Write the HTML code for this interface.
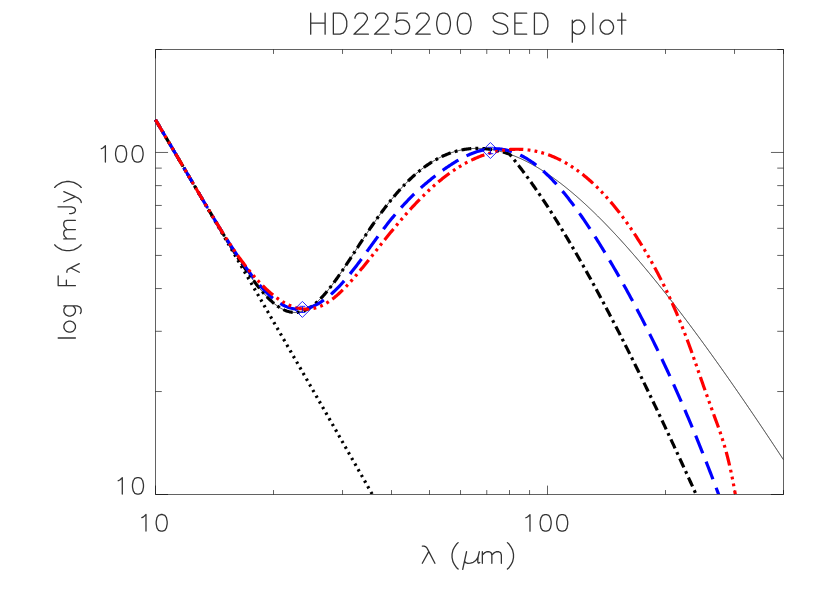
<!DOCTYPE html>
<html><head><meta charset="utf-8"><title>HD225200 SED plot</title>
<style>html,body{margin:0;padding:0;background:#fff;font-family:"Liberation Sans",sans-serif;}svg{display:block}</style>
</head><body>
<svg width="830" height="593" viewBox="0 0 830 593">
<defs><clipPath id="c"><rect x="151.50" y="49.50" width="632.00" height="444.50"/></clipPath></defs>
<rect width="830" height="593" fill="#fff"/>
<path d="M155.50 49.50 H783.50 V494.50 H155.50 Z" fill="none" stroke="#000" stroke-width="0.62"/>
<path d="M155.50 494.50 v-8.90 M155.50 49.50 v8.90 M273.50 494.50 v-4.45 M273.50 49.50 v4.45 M342.53 494.50 v-4.45 M342.53 49.50 v4.45 M391.50 494.50 v-4.45 M391.50 49.50 v4.45 M429.49 494.50 v-4.45 M429.49 49.50 v4.45 M460.53 494.50 v-4.45 M460.53 49.50 v4.45 M486.77 494.50 v-4.45 M486.77 49.50 v4.45 M509.51 494.50 v-4.45 M509.51 49.50 v4.45 M529.56 494.50 v-4.45 M529.56 49.50 v4.45 M547.50 494.50 v-8.90 M547.50 49.50 v8.90 M665.50 494.50 v-4.45 M665.50 49.50 v4.45 M734.52 494.50 v-4.45 M734.52 49.50 v4.45 M783.50 494.50 v-4.45 M783.50 49.50 v4.45 M155.50 494.50 h12.56 M783.50 494.50 h-12.56 M155.50 391.54 h6.28 M783.50 391.54 h-6.28 M155.50 331.31 h6.28 M783.50 331.31 h-6.28 M155.50 288.57 h6.28 M783.50 288.57 h-6.28 M155.50 255.43 h6.28 M783.50 255.43 h-6.28 M155.50 228.34 h6.28 M783.50 228.34 h-6.28 M155.50 205.45 h6.28 M783.50 205.45 h-6.28 M155.50 185.61 h6.28 M783.50 185.61 h-6.28 M155.50 168.11 h6.28 M783.50 168.11 h-6.28 M155.50 152.46 h12.56 M783.50 152.46 h-12.56 M155.50 49.50 h6.28 M783.50 49.50 h-6.28" fill="none" stroke="#000" stroke-width="0.62"/>
<g clip-path="url(#c)" fill="none" stroke-linejoin="round">
<path d="M155.50 119.77 L156.50 121.46 L157.50 123.15 L158.50 124.84 L159.50 126.54 L160.50 128.23 L161.50 129.92 L162.50 131.61 L163.50 133.31 L164.50 135.00 L165.50 136.69 L166.50 138.39 L167.50 140.08 L168.50 141.78 L169.50 143.47 L170.50 145.17 L171.50 146.87 L172.50 148.56 L173.50 150.26 L174.50 151.96 L175.50 153.65 L176.50 155.35 L177.50 157.05 L178.50 158.75 L179.50 160.45 L180.50 162.15 L181.50 163.85 L182.50 165.55 L183.50 167.25 L184.50 168.95 L185.50 170.65 L186.50 172.35 L187.50 174.05 L188.50 175.75 L189.50 177.45 L190.50 179.16 L191.50 180.86 L192.50 182.56 L193.50 184.27 L194.50 185.97 L195.50 187.68 L196.50 189.38 L197.50 191.09 L198.50 192.79 L199.50 194.50 L200.50 196.20 L201.50 197.91 L202.50 199.62 L203.50 201.32 L204.50 203.03 L205.50 204.74 L206.50 206.45 L207.50 208.15 L208.50 209.86 L209.50 211.57 L210.50 213.28 L211.50 214.99 L212.50 216.70 L213.50 218.41 L214.50 220.12 L215.50 221.83 L216.50 223.55 L217.50 225.26 L218.50 226.97 L219.50 228.68 L220.50 230.39 L221.50 232.11 L222.50 233.82 L223.50 235.54 L224.50 237.25 L225.50 238.96 L226.50 240.68 L227.50 242.39 L228.50 244.11 L229.50 245.83 L230.50 247.54 L231.50 249.26 L232.50 250.98 L233.50 252.69 L234.50 254.41 L235.50 256.13 L236.50 257.85 L237.50 259.57 L238.50 261.29 L239.50 263.00 L240.50 264.72 L241.50 266.44 L242.50 268.16 L243.50 269.89 L244.50 271.61 L245.50 273.33 L246.50 275.05 L247.50 276.77 L248.50 278.49 L249.50 280.22 L250.50 281.94 L251.50 283.66 L252.50 285.39 L253.50 287.11 L254.50 288.84 L255.50 290.56 L256.50 292.29 L257.50 294.01 L258.50 295.74 L259.50 297.46 L260.50 299.19 L261.50 300.92 L262.50 302.64 L263.50 304.37 L264.50 306.10 L265.50 307.83 L266.50 309.56 L267.50 311.29 L268.50 313.02 L269.50 314.74 L270.50 316.47 L271.50 318.21 L272.50 319.94 L273.50 321.67 L274.50 323.40 L275.50 325.13 L276.50 326.86 L277.50 328.59 L278.50 330.33 L279.50 332.06 L280.50 333.79 L281.50 335.53 L282.50 337.26 L283.50 339.00 L284.50 340.73 L285.50 342.47 L286.50 344.20 L287.50 345.94 L288.50 347.67 L289.50 349.41 L290.50 351.15 L291.50 352.88 L292.50 354.62 L293.50 356.36 L294.50 358.10 L295.50 359.84 L296.50 361.57 L297.50 363.31 L298.50 365.05 L299.50 366.79 L300.50 368.53 L301.50 370.27 L302.50 372.01 L303.50 373.76 L304.50 375.50 L305.50 377.24 L306.50 378.98 L307.50 380.72 L308.50 382.47 L309.50 384.21 L310.50 385.95 L311.50 387.70 L312.50 389.44 L313.50 391.19 L314.50 392.93 L315.50 394.68 L316.50 396.42 L317.50 398.17 L318.50 399.92 L319.50 401.66 L320.50 403.41 L321.50 405.16 L322.50 406.91 L323.50 408.65 L324.50 410.40 L325.50 412.15 L326.50 413.90 L327.50 415.65 L328.50 417.40 L329.50 419.15 L330.50 420.90 L331.50 422.65 L332.50 424.40 L333.50 426.15 L334.50 427.90 L335.50 429.66 L336.50 431.41 L337.50 433.16 L338.50 434.92 L339.50 436.67 L340.50 438.42 L341.50 440.18 L342.50 441.93 L343.50 443.69 L344.50 445.44 L345.50 447.20 L346.50 448.95 L347.50 450.71 L348.50 452.47 L349.50 454.22 L350.50 455.98 L351.50 457.74 L352.50 459.50 L353.50 461.26 L354.50 463.01 L355.50 464.77 L356.50 466.53 L357.50 468.29 L358.50 470.05 L359.50 471.81 L360.50 473.57 L361.50 475.33 L362.50 477.10 L363.50 478.86 L364.50 480.62 L365.50 482.38 L366.50 484.15 L367.50 485.91 L368.50 487.67 L369.50 489.44 L370.50 491.20 L371.50 492.96 L372.50 494.73 L373.50 496.49 L374.50 498.26 L375.50 500.03 L376.50 501.79" stroke="#000" stroke-width="3.20" stroke-dasharray="2.36 4.16" stroke-dashoffset="0.25"/>
<path d="M155.50 119.77 L156.50 121.46 L157.50 123.15 L158.50 124.84 L159.50 126.53 L160.50 128.22 L161.50 129.91 L162.50 131.61 L163.50 133.30 L164.50 134.99 L165.50 136.69 L166.50 138.38 L167.50 140.07 L168.50 141.77 L169.50 143.46 L170.50 145.16 L171.50 146.85 L172.50 148.55 L173.50 150.24 L174.50 151.94 L175.50 153.63 L176.50 155.33 L177.50 157.02 L178.50 158.72 L179.50 160.42 L180.50 162.11 L181.50 163.81 L182.50 165.51 L183.50 167.20 L184.50 168.90 L185.50 170.60 L186.50 172.29 L187.50 173.99 L188.50 175.68 L189.50 177.38 L190.50 179.08 L191.50 180.77 L192.50 182.47 L193.50 184.16 L194.50 185.86 L195.50 187.55 L196.50 189.25 L197.50 190.94 L198.50 192.63 L199.50 194.33 L200.50 196.02 L201.50 197.71 L202.50 199.40 L203.50 201.09 L204.50 202.78 L205.50 204.46 L206.50 206.15 L207.50 207.84 L208.50 209.52 L209.50 211.20 L210.50 212.88 L211.50 214.56 L212.50 216.24 L213.50 217.91 L214.50 219.58 L215.50 221.25 L216.50 222.92 L217.50 224.59 L218.50 226.25 L219.50 227.91 L220.50 229.57 L221.50 231.22 L222.50 232.87 L223.50 234.51 L224.50 236.15 L225.50 237.79 L226.50 239.42 L227.50 241.05 L228.50 242.67 L229.50 244.29 L230.50 245.90 L231.50 247.51 L232.50 249.11 L233.50 250.70 L234.50 252.28 L235.50 253.86 L236.50 255.43 L237.50 256.99 L238.50 258.54 L239.50 260.09 L240.50 261.62 L241.50 263.14 L242.50 264.66 L243.50 266.16 L244.50 267.65 L245.50 269.13 L246.50 270.59 L247.50 272.05 L248.50 273.49 L249.50 274.91 L250.50 276.32 L251.50 277.71 L252.50 279.09 L253.50 280.45 L254.50 281.79 L255.50 283.12 L256.50 284.42 L257.50 285.71 L258.50 286.97 L259.50 288.22 L260.50 289.44 L261.50 290.64 L262.50 291.81 L263.50 292.96 L264.50 294.09 L265.50 295.19 L266.50 296.26 L267.50 297.31 L268.50 298.32 L269.50 299.31 L270.50 300.27 L271.50 301.20 L272.50 302.10 L273.50 302.96 L274.50 303.79 L275.50 304.59 L276.50 305.35 L277.50 306.08 L278.50 306.77 L279.50 307.42 L280.50 308.04 L281.50 308.62 L282.50 309.16 L283.50 309.66 L284.50 310.12 L285.50 310.54 L286.50 310.92 L287.50 311.26 L288.50 311.56 L289.50 311.81 L290.50 312.02 L291.50 312.19 L292.50 312.32 L293.50 312.40 L294.50 312.44 L295.50 312.43 L296.50 312.38 L297.50 312.29 L298.50 312.16 L299.50 311.97 L300.50 311.75 L301.50 311.48 L302.50 311.17 L303.50 310.82 L304.50 310.42 L305.50 309.98 L306.50 309.50 L307.50 308.98 L308.50 308.41 L309.50 307.81 L310.50 307.16 L311.50 306.48 L312.50 305.76 L313.50 305.00 L314.50 304.20 L315.50 303.36 L316.50 302.49 L317.50 301.59 L318.50 300.65 L319.50 299.68 L320.50 298.67 L321.50 297.63 L322.50 296.57 L323.50 295.47 L324.50 294.34 L325.50 293.19 L326.50 292.01 L327.50 290.81 L328.50 289.58 L329.50 288.32 L330.50 287.05 L331.50 285.75 L332.50 284.43 L333.50 283.09 L334.50 281.73 L335.50 280.36 L336.50 278.97 L337.50 277.56 L338.50 276.14 L339.50 274.70 L340.50 273.26 L341.50 271.80 L342.50 270.33 L343.50 268.85 L344.50 267.36 L345.50 265.86 L346.50 264.35 L347.50 262.84 L348.50 261.32 L349.50 259.80 L350.50 258.27 L351.50 256.74 L352.50 255.21 L353.50 253.68 L354.50 252.14 L355.50 250.61 L356.50 249.07 L357.50 247.54 L358.50 246.00 L359.50 244.47 L360.50 242.95 L361.50 241.42 L362.50 239.90 L363.50 238.39 L364.50 236.87 L365.50 235.37 L366.50 233.87 L367.50 232.38 L368.50 230.89 L369.50 229.41 L370.50 227.94 L371.50 226.48 L372.50 225.02 L373.50 223.58 L374.50 222.14 L375.50 220.72 L376.50 219.30 L377.50 217.90 L378.50 216.50 L379.50 215.12 L380.50 213.75 L381.50 212.39 L382.50 211.04 L383.50 209.70 L384.50 208.38 L385.50 207.06 L386.50 205.76 L387.50 204.48 L388.50 203.20 L389.50 201.94 L390.50 200.70 L391.50 199.46 L392.50 198.25 L393.50 197.04 L394.50 195.85 L395.50 194.67 L396.50 193.51 L397.50 192.36 L398.50 191.23 L399.50 190.11 L400.50 189.00 L401.50 187.91 L402.50 186.84 L403.50 185.78 L404.50 184.73 L405.50 183.70 L406.50 182.69 L407.50 181.69 L408.50 180.70 L409.50 179.73 L410.50 178.78 L411.50 177.84 L412.50 176.91 L413.50 176.01 L414.50 175.11 L415.50 174.23 L416.50 173.37 L417.50 172.52 L418.50 171.69 L419.50 170.88 L420.50 170.07 L421.50 169.29 L422.50 168.52 L423.50 167.76 L424.50 167.02 L425.50 166.30 L426.50 165.59 L427.50 164.89 L428.50 164.21 L429.50 163.55 L430.50 162.90 L431.50 162.26 L432.50 161.65 L433.50 161.04 L434.50 160.45 L435.50 159.88 L436.50 159.32 L437.50 158.77 L438.50 158.24 L439.50 157.73 L440.50 157.22 L441.50 156.74 L442.50 156.27 L443.50 155.81 L444.50 155.36 L445.50 154.94 L446.50 154.52 L447.50 154.12 L448.50 153.73 L449.50 153.36 L450.50 153.00 L451.50 152.66 L452.50 152.33 L453.50 152.01 L454.50 151.71 L455.50 151.42 L456.50 151.14 L457.50 150.88 L458.50 150.63 L459.50 150.40 L460.50 150.18 L461.50 149.97 L462.50 149.77 L463.50 149.59 L464.50 149.42 L465.50 149.26 L466.50 149.12 L467.50 148.99 L468.50 148.87 L469.50 148.77 L470.50 148.68 L471.50 148.60 L472.50 148.53 L473.50 148.47 L474.50 148.43 L475.50 148.40 L476.50 148.38 L477.50 148.38 L478.50 148.38 L479.50 148.40 L480.50 148.43 L481.50 148.47 L482.50 148.53 L483.50 148.59 L484.50 148.67 L485.50 148.76 L486.50 148.86 L487.50 148.97 L488.50 149.09 L489.50 149.22 L490.50 149.37 L491.50 149.52 L492.50 149.69 L493.50 149.87 L494.50 150.06 L495.50 150.26 L496.50 150.47 L497.50 150.69 L498.50 150.92 L499.50 151.16 L500.50 151.41 L501.50 151.68 L502.50 151.95 L503.50 152.23 L504.50 152.53 L505.50 152.83 L506.50 153.14 L507.50 153.47 L508.50 153.80 L509.50 154.15 L510.50 154.50 L511.50 154.86 L512.50 155.23 L513.50 155.62 L514.50 156.01 L515.50 156.41 L516.50 156.82 L517.50 157.24 L518.50 157.67 L519.50 158.11 L520.50 158.56 L521.50 159.01 L522.50 159.48 L523.50 159.95 L524.50 160.43 L525.50 160.93 L526.50 161.43 L527.50 161.94 L528.50 162.46 L529.50 162.98 L530.50 163.52 L531.50 164.06 L532.50 164.61 L533.50 165.17 L534.50 165.74 L535.50 166.32 L536.50 166.90 L537.50 167.50 L538.50 168.10 L539.50 168.71 L540.50 169.32 L541.50 169.95 L542.50 170.58 L543.50 171.22 L544.50 171.87 L545.50 172.53 L546.50 173.19 L547.50 173.86 L548.50 174.54 L549.50 175.22 L550.50 175.92 L551.50 176.62 L552.50 177.33 L553.50 178.04 L554.50 178.76 L555.50 179.49 L556.50 180.23 L557.50 180.97 L558.50 181.72 L559.50 182.48 L560.50 183.24 L561.50 184.01 L562.50 184.79 L563.50 185.57 L564.50 186.36 L565.50 187.16 L566.50 187.97 L567.50 188.78 L568.50 189.59 L569.50 190.42 L570.50 191.25 L571.50 192.08 L572.50 192.92 L573.50 193.77 L574.50 194.63 L575.50 195.49 L576.50 196.35 L577.50 197.23 L578.50 198.11 L579.50 198.99 L580.50 199.88 L581.50 200.78 L582.50 201.68 L583.50 202.59 L584.50 203.50 L585.50 204.42 L586.50 205.35 L587.50 206.28 L588.50 207.22 L589.50 208.16 L590.50 209.11 L591.50 210.06 L592.50 211.02 L593.50 211.98 L594.50 212.95 L595.50 213.93 L596.50 214.91 L597.50 215.89 L598.50 216.88 L599.50 217.88 L600.50 218.88 L601.50 219.88 L602.50 220.89 L603.50 221.91 L604.50 222.93 L605.50 223.96 L606.50 224.99 L607.50 226.02 L608.50 227.06 L609.50 228.11 L610.50 229.16 L611.50 230.21 L612.50 231.27 L613.50 232.33 L614.50 233.40 L615.50 234.47 L616.50 235.55 L617.50 236.63 L618.50 237.72 L619.50 238.81 L620.50 239.91 L621.50 241.01 L622.50 242.11 L623.50 243.22 L624.50 244.33 L625.50 245.45 L626.50 246.57 L627.50 247.70 L628.50 248.83 L629.50 249.96 L630.50 251.10 L631.50 252.24 L632.50 253.39 L633.50 254.54 L634.50 255.69 L635.50 256.85 L636.50 258.01 L637.50 259.17 L638.50 260.34 L639.50 261.52 L640.50 262.70 L641.50 263.88 L642.50 265.06 L643.50 266.25 L644.50 267.44 L645.50 268.64 L646.50 269.84 L647.50 271.04 L648.50 272.25 L649.50 273.46 L650.50 274.67 L651.50 275.89 L652.50 277.11 L653.50 278.34 L654.50 279.57 L655.50 280.80 L656.50 282.03 L657.50 283.27 L658.50 284.51 L659.50 285.76 L660.50 287.01 L661.50 288.26 L662.50 289.51 L663.50 290.77 L664.50 292.03 L665.50 293.30 L666.50 294.56 L667.50 295.83 L668.50 297.11 L669.50 298.39 L670.50 299.67 L671.50 300.95 L672.50 302.24 L673.50 303.53 L674.50 304.82 L675.50 306.11 L676.50 307.41 L677.50 308.71 L678.50 310.02 L679.50 311.32 L680.50 312.63 L681.50 313.95 L682.50 315.26 L683.50 316.58 L684.50 317.90 L685.50 319.23 L686.50 320.55 L687.50 321.88 L688.50 323.21 L689.50 324.55 L690.50 325.89 L691.50 327.23 L692.50 328.57 L693.50 329.92 L694.50 331.26 L695.50 332.61 L696.50 333.97 L697.50 335.32 L698.50 336.68 L699.50 338.04 L700.50 339.41 L701.50 340.77 L702.50 342.14 L703.50 343.51 L704.50 344.88 L705.50 346.26 L706.50 347.64 L707.50 349.02 L708.50 350.40 L709.50 351.79 L710.50 353.17 L711.50 354.56 L712.50 355.95 L713.50 357.35 L714.50 358.75 L715.50 360.14 L716.50 361.55 L717.50 362.95 L718.50 364.35 L719.50 365.76 L720.50 367.17 L721.50 368.58 L722.50 370.00 L723.50 371.41 L724.50 372.83 L725.50 374.25 L726.50 375.68 L727.50 377.10 L728.50 378.53 L729.50 379.96 L730.50 381.39 L731.50 382.82 L732.50 384.25 L733.50 385.69 L734.50 387.13 L735.50 388.57 L736.50 390.01 L737.50 391.46 L738.50 392.90 L739.50 394.35 L740.50 395.80 L741.50 397.26 L742.50 398.71 L743.50 400.17 L744.50 401.62 L745.50 403.08 L746.50 404.54 L747.50 406.01 L748.50 407.47 L749.50 408.94 L750.50 410.41 L751.50 411.88 L752.50 413.35 L753.50 414.82 L754.50 416.30 L755.50 417.78 L756.50 419.26 L757.50 420.74 L758.50 422.22 L759.50 423.70 L760.50 425.19 L761.50 426.68 L762.50 428.17 L763.50 429.66 L764.50 431.15 L765.50 432.64 L766.50 434.14 L767.50 435.64 L768.50 437.13 L769.50 438.63 L770.50 440.14 L771.50 441.64 L772.50 443.14 L773.50 444.65 L774.50 446.16 L775.50 447.67 L776.50 449.18 L777.50 450.69 L778.50 452.20 L779.50 453.72 L780.50 455.23 L781.50 456.75 L782.50 458.27 L783.50 459.79" stroke="#000" stroke-width="0.75"/>
<path d="M155.50 119.77 L156.50 121.46 L157.50 123.15 L158.50 124.84 L159.50 126.53 L160.50 128.22 L161.50 129.91 L162.50 131.61 L163.50 133.30 L164.50 134.99 L165.50 136.69 L166.50 138.38 L167.50 140.07 L168.50 141.77 L169.50 143.46 L170.50 145.16 L171.50 146.85 L172.50 148.55 L173.50 150.24 L174.50 151.94 L175.50 153.63 L176.50 155.33 L177.50 157.02 L178.50 158.72 L179.50 160.42 L180.50 162.11 L181.50 163.81 L182.50 165.51 L183.50 167.20 L184.50 168.90 L185.50 170.60 L186.50 172.29 L187.50 173.99 L188.50 175.68 L189.50 177.38 L190.50 179.08 L191.50 180.77 L192.50 182.47 L193.50 184.16 L194.50 185.86 L195.50 187.55 L196.50 189.25 L197.50 190.94 L198.50 192.63 L199.50 194.33 L200.50 196.02 L201.50 197.71 L202.50 199.40 L203.50 201.09 L204.50 202.78 L205.50 204.46 L206.50 206.15 L207.50 207.84 L208.50 209.52 L209.50 211.20 L210.50 212.88 L211.50 214.56 L212.50 216.24 L213.50 217.91 L214.50 219.58 L215.50 221.25 L216.50 222.92 L217.50 224.59 L218.50 226.25 L219.50 227.91 L220.50 229.57 L221.50 231.22 L222.50 232.87 L223.50 234.51 L224.50 236.15 L225.50 237.79 L226.50 239.42 L227.50 241.05 L228.50 242.67 L229.50 244.29 L230.50 245.90 L231.50 247.51 L232.50 249.11 L233.50 250.70 L234.50 252.28 L235.50 253.86 L236.50 255.43 L237.50 256.99 L238.50 258.54 L239.50 260.09 L240.50 261.62 L241.50 263.14 L242.50 264.66 L243.50 266.16 L244.50 267.65 L245.50 269.13 L246.50 270.59 L247.50 272.05 L248.50 273.49 L249.50 274.91 L250.50 276.32 L251.50 277.71 L252.50 279.09 L253.50 280.45 L254.50 281.79 L255.50 283.12 L256.50 284.42 L257.50 285.71 L258.50 286.97 L259.50 288.22 L260.50 289.44 L261.50 290.64 L262.50 291.81 L263.50 292.96 L264.50 294.09 L265.50 295.19 L266.50 296.26 L267.50 297.31 L268.50 298.32 L269.50 299.31 L270.50 300.27 L271.50 301.20 L272.50 302.10 L273.50 302.96 L274.50 303.79 L275.50 304.59 L276.50 305.35 L277.50 306.08 L278.50 306.77 L279.50 307.42 L280.50 308.04 L281.50 308.62 L282.50 309.16 L283.50 309.66 L284.50 310.12 L285.50 310.54 L286.50 310.92 L287.50 311.26 L288.50 311.56 L289.50 311.81 L290.50 312.02 L291.50 312.19 L292.50 312.32 L293.50 312.40 L294.50 312.44 L295.50 312.43 L296.50 312.38 L297.50 312.29 L298.50 312.16 L299.50 311.97 L300.50 311.75 L301.50 311.48 L302.50 311.17 L303.50 310.82 L304.50 310.42 L305.50 309.98 L306.50 309.50 L307.50 308.98 L308.50 308.41 L309.50 307.81 L310.50 307.16 L311.50 306.48 L312.50 305.76 L313.50 305.00 L314.50 304.20 L315.50 303.36 L316.50 302.49 L317.50 301.59 L318.50 300.65 L319.50 299.68 L320.50 298.67 L321.50 297.63 L322.50 296.57 L323.50 295.47 L324.50 294.34 L325.50 293.19 L326.50 292.01 L327.50 290.81 L328.50 289.58 L329.50 288.32 L330.50 287.05 L331.50 285.75 L332.50 284.43 L333.50 283.09 L334.50 281.73 L335.50 280.36 L336.50 278.97 L337.50 277.56 L338.50 276.14 L339.50 274.70 L340.50 273.26 L341.50 271.80 L342.50 270.33 L343.50 268.85 L344.50 267.36 L345.50 265.86 L346.50 264.35 L347.50 262.84 L348.50 261.32 L349.50 259.80 L350.50 258.27 L351.50 256.74 L352.50 255.21 L353.50 253.68 L354.50 252.14 L355.50 250.61 L356.50 249.07 L357.50 247.54 L358.50 246.00 L359.50 244.47 L360.50 242.95 L361.50 241.42 L362.50 239.90 L363.50 238.39 L364.50 236.87 L365.50 235.37 L366.50 233.87 L367.50 232.38 L368.50 230.89 L369.50 229.41 L370.50 227.94 L371.50 226.48 L372.50 225.02 L373.50 223.58 L374.50 222.14 L375.50 220.72 L376.50 219.30 L377.50 217.90 L378.50 216.50 L379.50 215.12 L380.50 213.75 L381.50 212.39 L382.50 211.04 L383.50 209.70 L384.50 208.38 L385.50 207.06 L386.50 205.76 L387.50 204.48 L388.50 203.20 L389.50 201.94 L390.50 200.70 L391.50 199.46 L392.50 198.25 L393.50 197.04 L394.50 195.85 L395.50 194.67 L396.50 193.51 L397.50 192.36 L398.50 191.23 L399.50 190.11 L400.50 189.00 L401.50 187.91 L402.50 186.84 L403.50 185.78 L404.50 184.73 L405.50 183.70 L406.50 182.69 L407.50 181.69 L408.50 180.70 L409.50 179.73 L410.50 178.78 L411.50 177.84 L412.50 176.91 L413.50 176.01 L414.50 175.11 L415.50 174.23 L416.50 173.37 L417.50 172.52 L418.50 171.69 L419.50 170.88 L420.50 170.07 L421.50 169.29 L422.50 168.52 L423.50 167.76 L424.50 167.02 L425.50 166.30 L426.50 165.59 L427.50 164.89 L428.50 164.21 L429.50 163.55 L430.50 162.90 L431.50 162.26 L432.50 161.65 L433.50 161.04 L434.50 160.45 L435.50 159.88 L436.50 159.32 L437.50 158.77 L438.50 158.24 L439.50 157.73 L440.50 157.22 L441.50 156.74 L442.50 156.27 L443.50 155.81 L444.50 155.36 L445.50 154.94 L446.50 154.52 L447.50 154.12 L448.50 153.73 L449.50 153.36 L450.50 153.00 L451.50 152.66 L452.50 152.33 L453.50 152.01 L454.50 151.71 L455.50 151.42 L456.50 151.14 L457.50 150.88 L458.50 150.63 L459.50 150.40 L460.50 150.18 L461.50 149.97 L462.50 149.77 L463.50 149.59 L464.50 149.42 L465.50 149.26 L466.50 149.12 L467.50 148.99 L468.50 148.87 L469.50 148.77 L470.50 148.68 L471.50 148.60 L472.50 148.53 L473.50 148.47 L474.50 148.43 L475.50 148.40 L476.50 148.38 L477.50 148.38 L478.50 148.38 L479.50 148.40 L480.50 148.43 L481.50 148.47 L482.50 148.53 L483.50 148.59 L484.50 148.67 L485.50 148.76 L486.50 148.86 L487.50 148.97 L488.50 149.09 L489.50 149.22 L490.50 149.37 L491.50 149.52 L492.50 149.69 L493.50 149.87 L494.50 150.06 L495.50 150.26 L496.50 150.47 L497.50 150.69 L498.50 150.92 L499.50 151.16 L500.50 151.41 L501.50 151.68 L502.50 151.95 L503.50 152.23 L504.50 152.53 L505.50 152.83 L506.50 153.14 L507.50 153.47 L508.50 153.80 L509.50 154.15 L510.50 155.35 L511.50 156.57 L512.50 157.80 L513.50 159.04 L514.50 160.28 L515.50 161.54 L516.50 162.81 L517.50 164.09 L518.50 165.37 L519.50 166.67 L520.50 167.97 L521.50 169.29 L522.50 170.61 L523.50 171.95 L524.50 173.29 L525.50 174.64 L526.50 176.00 L527.50 177.37 L528.50 178.74 L529.50 180.13 L530.50 181.52 L531.50 182.93 L532.50 184.34 L533.50 185.76 L534.50 187.19 L535.50 188.62 L536.50 190.07 L537.50 191.52 L538.50 192.98 L539.50 194.45 L540.50 195.93 L541.50 197.42 L542.50 198.91 L543.50 200.41 L544.50 201.92 L545.50 203.44 L546.50 204.96 L547.50 206.49 L548.50 208.03 L549.50 209.58 L550.50 211.14 L551.50 212.70 L552.50 214.27 L553.50 215.84 L554.50 217.43 L555.50 219.02 L556.50 220.62 L557.50 222.22 L558.50 223.84 L559.50 225.46 L560.50 227.08 L561.50 228.71 L562.50 230.35 L563.50 232.00 L564.50 233.65 L565.50 235.31 L566.50 236.98 L567.50 238.65 L568.50 240.33 L569.50 242.02 L570.50 243.71 L571.50 245.41 L572.50 247.12 L573.50 248.83 L574.50 250.55 L575.50 252.27 L576.50 254.00 L577.50 255.74 L578.50 257.48 L579.50 259.23 L580.50 260.98 L581.50 262.74 L582.50 264.51 L583.50 266.28 L584.50 268.06 L585.50 269.84 L586.50 271.63 L587.50 273.42 L588.50 275.22 L589.50 277.03 L590.50 278.84 L591.50 280.66 L592.50 282.48 L593.50 284.31 L594.50 286.14 L595.50 287.98 L596.50 289.82 L597.50 291.67 L598.50 293.53 L599.50 295.39 L600.50 297.25 L601.50 299.12 L602.50 300.99 L603.50 302.87 L604.50 304.76 L605.50 306.65 L606.50 308.54 L607.50 310.44 L608.50 312.34 L609.50 314.25 L610.50 316.17 L611.50 318.09 L612.50 320.01 L613.50 321.94 L614.50 323.87 L615.50 325.81 L616.50 327.75 L617.50 329.69 L618.50 331.64 L619.50 333.60 L620.50 335.56 L621.50 337.52 L622.50 339.49 L623.50 341.46 L624.50 343.44 L625.50 345.42 L626.50 347.40 L627.50 349.39 L628.50 351.39 L629.50 353.39 L630.50 355.39 L631.50 357.39 L632.50 359.40 L633.50 361.42 L634.50 363.43 L635.50 365.46 L636.50 367.48 L637.50 369.51 L638.50 371.55 L639.50 373.58 L640.50 375.62 L641.50 377.67 L642.50 379.72 L643.50 381.77 L644.50 383.83 L645.50 385.89 L646.50 387.95 L647.50 390.02 L648.50 392.09 L649.50 394.16 L650.50 396.24 L651.50 398.32 L652.50 400.41 L653.50 402.50 L654.50 404.59 L655.50 406.68 L656.50 408.78 L657.50 410.88 L658.50 412.99 L659.50 415.10 L660.50 417.21 L661.50 419.32 L662.50 421.44 L663.50 423.56 L664.50 425.69 L665.50 427.82 L666.50 429.95 L667.50 432.08 L668.50 434.22 L669.50 436.36 L670.50 438.50 L671.50 440.65 L672.50 442.80 L673.50 444.95 L674.50 447.11 L675.50 449.27 L676.50 451.43 L677.50 453.59 L678.50 455.76 L679.50 457.93 L680.50 460.10 L681.50 462.28 L682.50 464.46 L683.50 466.64 L684.50 468.82 L685.50 471.01 L686.50 473.20 L687.50 475.39 L688.50 477.59 L689.50 479.79 L690.50 481.99 L691.50 484.19 L692.50 486.39 L693.50 488.60 L694.50 490.81 L695.50 493.03 L696.50 495.24 L697.50 497.46 L698.50 499.68 L699.50 501.91" stroke="#000" stroke-width="3.20" stroke-dasharray="9.81 4.16 2.83 4.16" stroke-dashoffset="0.25"/>
<path d="M155.50 119.77 L156.50 121.46 L157.50 123.15 L158.50 124.84 L159.50 126.53 L160.50 128.22 L161.50 129.91 L162.50 131.61 L163.50 133.30 L164.50 134.99 L165.50 136.69 L166.50 138.38 L167.50 140.07 L168.50 141.77 L169.50 143.46 L170.50 145.16 L171.50 146.85 L172.50 148.55 L173.50 150.24 L174.50 151.94 L175.50 153.63 L176.50 155.33 L177.50 157.03 L178.50 158.72 L179.50 160.42 L180.50 162.11 L181.50 163.81 L182.50 165.51 L183.50 167.20 L184.50 168.90 L185.50 170.60 L186.50 172.29 L187.50 173.99 L188.50 175.69 L189.50 177.38 L190.50 179.08 L191.50 180.77 L192.50 182.47 L193.50 184.16 L194.50 185.86 L195.50 187.55 L196.50 189.25 L197.50 190.94 L198.50 192.63 L199.50 194.32 L200.50 196.01 L201.50 197.70 L202.50 199.39 L203.50 201.07 L204.50 202.76 L205.50 204.44 L206.50 206.12 L207.50 207.80 L208.50 209.47 L209.50 211.15 L210.50 212.82 L211.50 214.49 L212.50 216.15 L213.50 217.81 L214.50 219.47 L215.50 221.12 L216.50 222.77 L217.50 224.41 L218.50 226.05 L219.50 227.68 L220.50 229.31 L221.50 230.93 L222.50 232.54 L223.50 234.14 L224.50 235.74 L225.50 237.33 L226.50 238.91 L227.50 240.48 L228.50 242.04 L229.50 243.60 L230.50 245.14 L231.50 246.67 L232.50 248.19 L233.50 249.71 L234.50 251.21 L235.50 252.70 L236.50 254.18 L237.50 255.65 L238.50 257.11 L239.50 258.56 L240.50 260.00 L241.50 261.43 L242.50 262.85 L243.50 264.26 L244.50 265.66 L245.50 267.05 L246.50 268.42 L247.50 269.78 L248.50 271.13 L249.50 272.47 L250.50 273.79 L251.50 275.10 L252.50 276.39 L253.50 277.66 L254.50 278.92 L255.50 280.16 L256.50 281.37 L257.50 282.57 L258.50 283.75 L259.50 284.91 L260.50 286.05 L261.50 287.16 L262.50 288.26 L263.50 289.33 L264.50 290.37 L265.50 291.40 L266.50 292.40 L267.50 293.37 L268.50 294.32 L269.50 295.25 L270.50 296.14 L271.50 297.02 L272.50 297.86 L273.50 298.68 L274.50 299.47 L275.50 300.23 L276.50 300.96 L277.50 301.66 L278.50 302.34 L279.50 302.98 L280.50 303.59 L281.50 304.18 L282.50 304.73 L283.50 305.25 L284.50 305.74 L285.50 306.20 L286.50 306.63 L287.50 307.03 L288.50 307.39 L289.50 307.72 L290.50 308.02 L291.50 308.29 L292.50 308.52 L293.50 308.73 L294.50 308.90 L295.50 309.03 L296.50 309.14 L297.50 309.21 L298.50 309.25 L299.50 309.26 L300.50 309.23 L301.50 309.18 L302.50 309.09 L303.50 308.97 L304.50 308.81 L305.50 308.63 L306.50 308.42 L307.50 308.17 L308.50 307.90 L309.50 307.59 L310.50 307.25 L311.50 306.89 L312.50 306.49 L313.50 306.07 L314.50 305.61 L315.50 305.13 L316.50 304.62 L317.50 304.08 L318.50 303.52 L319.50 302.92 L320.50 302.30 L321.50 301.66 L322.50 300.99 L323.50 300.29 L324.50 299.57 L325.50 298.83 L326.50 298.06 L327.50 297.26 L328.50 296.45 L329.50 295.61 L330.50 294.74 L331.50 293.86 L332.50 292.96 L333.50 292.03 L334.50 291.08 L335.50 290.11 L336.50 289.12 L337.50 288.11 L338.50 287.09 L339.50 286.04 L340.50 284.97 L341.50 283.89 L342.50 282.79 L343.50 281.67 L344.50 280.53 L345.50 279.38 L346.50 278.21 L347.50 277.02 L348.50 275.82 L349.50 274.60 L350.50 273.37 L351.50 272.12 L352.50 270.85 L353.50 269.58 L354.50 268.29 L355.50 266.99 L356.50 265.68 L357.50 264.36 L358.50 263.03 L359.50 261.69 L360.50 260.34 L361.50 258.99 L362.50 257.63 L363.50 256.27 L364.50 254.90 L365.50 253.53 L366.50 252.15 L367.50 250.77 L368.50 249.39 L369.50 248.01 L370.50 246.63 L371.50 245.25 L372.50 243.87 L373.50 242.50 L374.50 241.12 L375.50 239.75 L376.50 238.39 L377.50 237.03 L378.50 235.67 L379.50 234.32 L380.50 232.98 L381.50 231.65 L382.50 230.32 L383.50 229.01 L384.50 227.70 L385.50 226.40 L386.50 225.12 L387.50 223.84 L388.50 222.58 L389.50 221.33 L390.50 220.08 L391.50 218.85 L392.50 217.64 L393.50 216.43 L394.50 215.23 L395.50 214.05 L396.50 212.88 L397.50 211.72 L398.50 210.57 L399.50 209.43 L400.50 208.31 L401.50 207.19 L402.50 206.09 L403.50 205.00 L404.50 203.92 L405.50 202.85 L406.50 201.80 L407.50 200.75 L408.50 199.72 L409.50 198.70 L410.50 197.69 L411.50 196.69 L412.50 195.70 L413.50 194.72 L414.50 193.75 L415.50 192.80 L416.50 191.85 L417.50 190.92 L418.50 189.99 L419.50 189.08 L420.50 188.17 L421.50 187.28 L422.50 186.39 L423.50 185.52 L424.50 184.65 L425.50 183.80 L426.50 182.95 L427.50 182.11 L428.50 181.28 L429.50 180.46 L430.50 179.65 L431.50 178.85 L432.50 178.05 L433.50 177.26 L434.50 176.48 L435.50 175.71 L436.50 174.95 L437.50 174.19 L438.50 173.44 L439.50 172.69 L440.50 171.95 L441.50 171.22 L442.50 170.50 L443.50 169.78 L444.50 169.07 L445.50 168.37 L446.50 167.68 L447.50 166.99 L448.50 166.31 L449.50 165.64 L450.50 164.98 L451.50 164.33 L452.50 163.69 L453.50 163.06 L454.50 162.44 L455.50 161.83 L456.50 161.23 L457.50 160.64 L458.50 160.06 L459.50 159.49 L460.50 158.94 L461.50 158.39 L462.50 157.86 L463.50 157.34 L464.50 156.83 L465.50 156.34 L466.50 155.86 L467.50 155.39 L468.50 154.94 L469.50 154.50 L470.50 154.07 L471.50 153.66 L472.50 153.26 L473.50 152.88 L474.50 152.51 L475.50 152.16 L476.50 151.82 L477.50 151.50 L478.50 151.20 L479.50 150.91 L480.50 150.64 L481.50 150.39 L482.50 150.15 L483.50 149.93 L484.50 149.72 L485.50 149.54 L486.50 149.37 L487.50 149.22 L488.50 149.09 L489.50 148.98 L490.50 148.89 L491.50 148.82 L492.50 148.76 L493.50 148.73 L494.50 148.72 L495.50 148.72 L496.50 148.75 L497.50 148.79 L498.50 148.86 L499.50 148.94 L500.50 149.05 L501.50 149.17 L502.50 149.32 L503.50 149.48 L504.50 149.67 L505.50 149.87 L506.50 150.09 L507.50 150.33 L508.50 150.59 L509.50 150.87 L510.50 151.17 L511.50 151.49 L512.50 151.83 L513.50 152.18 L514.50 152.56 L515.50 152.95 L516.50 153.36 L517.50 153.79 L518.50 154.24 L519.50 154.71 L520.50 155.20 L521.50 155.70 L522.50 156.22 L523.50 156.76 L524.50 157.32 L525.50 157.90 L526.50 158.49 L527.50 159.11 L528.50 159.74 L529.50 160.39 L530.50 161.05 L531.50 161.73 L532.50 162.43 L533.50 163.15 L534.50 163.89 L535.50 164.64 L536.50 165.41 L537.50 166.20 L538.50 167.00 L539.50 167.82 L540.50 168.66 L541.50 169.51 L542.50 170.39 L543.50 171.27 L544.50 172.18 L545.50 173.10 L546.50 174.04 L547.50 174.99 L548.50 175.96 L549.50 176.95 L550.50 177.95 L551.50 178.97 L552.50 180.00 L553.50 181.05 L554.50 182.11 L555.50 183.20 L556.50 184.29 L557.50 185.40 L558.50 186.53 L559.50 187.68 L560.50 188.83 L561.50 190.01 L562.50 191.19 L563.50 192.39 L564.50 193.61 L565.50 194.84 L566.50 196.08 L567.50 197.34 L568.50 198.61 L569.50 199.89 L570.50 201.19 L571.50 202.50 L572.50 203.83 L573.50 205.16 L574.50 206.51 L575.50 207.87 L576.50 209.24 L577.50 210.63 L578.50 212.02 L579.50 213.43 L580.50 214.85 L581.50 216.28 L582.50 217.72 L583.50 219.18 L584.50 220.64 L585.50 222.11 L586.50 223.60 L587.50 225.09 L588.50 226.60 L589.50 228.11 L590.50 229.64 L591.50 231.17 L592.50 232.71 L593.50 234.27 L594.50 235.83 L595.50 237.40 L596.50 238.98 L597.50 240.56 L598.50 242.16 L599.50 243.76 L600.50 245.37 L601.50 246.99 L602.50 248.62 L603.50 250.25 L604.50 251.89 L605.50 253.54 L606.50 255.20 L607.50 256.86 L608.50 258.53 L609.50 260.20 L610.50 261.89 L611.50 263.58 L612.50 265.28 L613.50 266.98 L614.50 268.70 L615.50 270.42 L616.50 272.15 L617.50 273.88 L618.50 275.63 L619.50 277.38 L620.50 279.14 L621.50 280.90 L622.50 282.68 L623.50 284.46 L624.50 286.25 L625.50 288.04 L626.50 289.85 L627.50 291.66 L628.50 293.48 L629.50 295.31 L630.50 297.15 L631.50 298.99 L632.50 300.84 L633.50 302.70 L634.50 304.57 L635.50 306.45 L636.50 308.33 L637.50 310.23 L638.50 312.13 L639.50 314.04 L640.50 315.96 L641.50 317.88 L642.50 319.82 L643.50 321.76 L644.50 323.71 L645.50 325.67 L646.50 327.64 L647.50 329.62 L648.50 331.60 L649.50 333.60 L650.50 335.60 L651.50 337.61 L652.50 339.63 L653.50 341.66 L654.50 343.70 L655.50 345.75 L656.50 347.80 L657.50 349.87 L658.50 351.94 L659.50 354.02 L660.50 356.12 L661.50 358.22 L662.50 360.33 L663.50 362.44 L664.50 364.57 L665.50 366.71 L666.50 368.86 L667.50 371.01 L668.50 373.18 L669.50 375.35 L670.50 377.53 L671.50 379.73 L672.50 381.93 L673.50 384.14 L674.50 386.36 L675.50 388.59 L676.50 390.83 L677.50 393.09 L678.50 395.34 L679.50 397.61 L680.50 399.89 L681.50 402.18 L682.50 404.48 L683.50 406.79 L684.50 409.11 L685.50 411.44 L686.50 413.77 L687.50 416.12 L688.50 418.48 L689.50 420.85 L690.50 423.23 L691.50 425.61 L692.50 428.01 L693.50 430.42 L694.50 432.84 L695.50 435.27 L696.50 437.71 L697.50 440.16 L698.50 442.62 L699.50 445.09 L700.50 447.57 L701.50 450.06 L702.50 452.56 L703.50 455.07 L704.50 457.59 L705.50 460.13 L706.50 462.67 L707.50 465.22 L708.50 467.79 L709.50 470.36 L710.50 472.95 L711.50 475.55 L712.50 478.15 L713.50 480.77 L714.50 483.40 L715.50 486.04 L716.50 488.69 L717.50 491.35 L718.50 494.03 L719.50 496.71 L720.50 499.41 L721.50 502.11" stroke="#0000ff" stroke-width="3.20" stroke-dasharray="18.88 9.06" stroke-dashoffset="0.17"/>
<path d="M155.50 119.77 L156.50 121.46 L157.50 123.15 L158.50 124.84 L159.50 126.53 L160.50 128.22 L161.50 129.91 L162.50 131.61 L163.50 133.30 L164.50 134.99 L165.50 136.69 L166.50 138.38 L167.50 140.07 L168.50 141.77 L169.50 143.46 L170.50 145.16 L171.50 146.85 L172.50 148.55 L173.50 150.24 L174.50 151.94 L175.50 153.63 L176.50 155.33 L177.50 157.02 L178.50 158.72 L179.50 160.42 L180.50 162.11 L181.50 163.81 L182.50 165.51 L183.50 167.20 L184.50 168.90 L185.50 170.60 L186.50 172.29 L187.50 173.99 L188.50 175.69 L189.50 177.38 L190.50 179.08 L191.50 180.78 L192.50 182.47 L193.50 184.17 L194.50 185.86 L195.50 187.56 L196.50 189.25 L197.50 190.94 L198.50 192.64 L199.50 194.33 L200.50 196.02 L201.50 197.71 L202.50 199.40 L203.50 201.09 L204.50 202.77 L205.50 204.46 L206.50 206.14 L207.50 207.82 L208.50 209.50 L209.50 211.18 L210.50 212.85 L211.50 214.52 L212.50 216.18 L213.50 217.85 L214.50 219.50 L215.50 221.16 L216.50 222.81 L217.50 224.45 L218.50 226.08 L219.50 227.71 L220.50 229.33 L221.50 230.95 L222.50 232.55 L223.50 234.15 L224.50 235.73 L225.50 237.31 L226.50 238.87 L227.50 240.42 L228.50 241.96 L229.50 243.49 L230.50 245.00 L231.50 246.50 L232.50 247.99 L233.50 249.46 L234.50 250.91 L235.50 252.35 L236.50 253.77 L237.50 255.18 L238.50 256.57 L239.50 257.95 L240.50 259.31 L241.50 260.66 L242.50 261.99 L243.50 263.31 L244.50 264.61 L245.50 265.90 L246.50 267.17 L247.50 268.42 L248.50 269.66 L249.50 270.89 L250.50 272.10 L251.50 273.29 L252.50 274.47 L253.50 275.64 L254.50 276.79 L255.50 277.92 L256.50 279.04 L257.50 280.14 L258.50 281.23 L259.50 282.30 L260.50 283.36 L261.50 284.39 L262.50 285.41 L263.50 286.42 L264.50 287.40 L265.50 288.37 L266.50 289.32 L267.50 290.25 L268.50 291.15 L269.50 292.04 L270.50 292.91 L271.50 293.75 L272.50 294.58 L273.50 295.38 L274.50 296.16 L275.50 296.92 L276.50 297.66 L277.50 298.38 L278.50 299.07 L279.50 299.75 L280.50 300.40 L281.50 301.03 L282.50 301.64 L283.50 302.22 L284.50 302.78 L285.50 303.32 L286.50 303.84 L287.50 304.34 L288.50 304.81 L289.50 305.26 L290.50 305.68 L291.50 306.08 L292.50 306.46 L293.50 306.81 L294.50 307.14 L295.50 307.45 L296.50 307.73 L297.50 307.98 L298.50 308.21 L299.50 308.42 L300.50 308.60 L301.50 308.75 L302.50 308.88 L303.50 308.98 L304.50 309.05 L305.50 309.09 L306.50 309.11 L307.50 309.10 L308.50 309.06 L309.50 308.99 L310.50 308.89 L311.50 308.75 L312.50 308.59 L313.50 308.40 L314.50 308.18 L315.50 307.92 L316.50 307.63 L317.50 307.31 L318.50 306.96 L319.50 306.58 L320.50 306.17 L321.50 305.73 L322.50 305.26 L323.50 304.75 L324.50 304.22 L325.50 303.66 L326.50 303.07 L327.50 302.46 L328.50 301.81 L329.50 301.14 L330.50 300.44 L331.50 299.72 L332.50 298.97 L333.50 298.19 L334.50 297.39 L335.50 296.56 L336.50 295.72 L337.50 294.84 L338.50 293.95 L339.50 293.04 L340.50 292.10 L341.50 291.14 L342.50 290.17 L343.50 289.17 L344.50 288.16 L345.50 287.13 L346.50 286.08 L347.50 285.02 L348.50 283.94 L349.50 282.85 L350.50 281.74 L351.50 280.62 L352.50 279.49 L353.50 278.35 L354.50 277.19 L355.50 276.03 L356.50 274.85 L357.50 273.67 L358.50 272.48 L359.50 271.28 L360.50 270.08 L361.50 268.86 L362.50 267.64 L363.50 266.42 L364.50 265.19 L365.50 263.95 L366.50 262.71 L367.50 261.46 L368.50 260.22 L369.50 258.96 L370.50 257.71 L371.50 256.45 L372.50 255.19 L373.50 253.93 L374.50 252.67 L375.50 251.41 L376.50 250.14 L377.50 248.88 L378.50 247.62 L379.50 246.36 L380.50 245.09 L381.50 243.83 L382.50 242.58 L383.50 241.32 L384.50 240.07 L385.50 238.82 L386.50 237.57 L387.50 236.32 L388.50 235.08 L389.50 233.84 L390.50 232.61 L391.50 231.38 L392.50 230.15 L393.50 228.93 L394.50 227.72 L395.50 226.51 L396.50 225.30 L397.50 224.11 L398.50 222.91 L399.50 221.73 L400.50 220.55 L401.50 219.37 L402.50 218.21 L403.50 217.05 L404.50 215.89 L405.50 214.75 L406.50 213.61 L407.50 212.48 L408.50 211.36 L409.50 210.24 L410.50 209.13 L411.50 208.03 L412.50 206.94 L413.50 205.86 L414.50 204.79 L415.50 203.72 L416.50 202.67 L417.50 201.62 L418.50 200.58 L419.50 199.55 L420.50 198.53 L421.50 197.52 L422.50 196.52 L423.50 195.53 L424.50 194.55 L425.50 193.58 L426.50 192.61 L427.50 191.66 L428.50 190.72 L429.50 189.78 L430.50 188.86 L431.50 187.95 L432.50 187.05 L433.50 186.15 L434.50 185.27 L435.50 184.40 L436.50 183.54 L437.50 182.69 L438.50 181.84 L439.50 181.01 L440.50 180.19 L441.50 179.39 L442.50 178.59 L443.50 177.80 L444.50 177.02 L445.50 176.25 L446.50 175.50 L447.50 174.75 L448.50 174.02 L449.50 173.29 L450.50 172.58 L451.50 171.88 L452.50 171.19 L453.50 170.51 L454.50 169.84 L455.50 169.18 L456.50 168.53 L457.50 167.89 L458.50 167.27 L459.50 166.65 L460.50 166.05 L461.50 165.45 L462.50 164.87 L463.50 164.30 L464.50 163.74 L465.50 163.19 L466.50 162.65 L467.50 162.12 L468.50 161.60 L469.50 161.10 L470.50 160.60 L471.50 160.12 L472.50 159.64 L473.50 159.18 L474.50 158.73 L475.50 158.28 L476.50 157.85 L477.50 157.43 L478.50 157.02 L479.50 156.63 L480.50 156.24 L481.50 155.86 L482.50 155.49 L483.50 155.14 L484.50 154.79 L485.50 154.46 L486.50 154.13 L487.50 153.82 L488.50 153.52 L489.50 153.22 L490.50 152.94 L491.50 152.67 L492.50 152.41 L493.50 152.16 L494.50 151.92 L495.50 151.69 L496.50 151.47 L497.50 151.26 L498.50 151.06 L499.50 150.87 L500.50 150.69 L501.50 150.52 L502.50 150.36 L503.50 150.21 L504.50 150.08 L505.50 149.95 L506.50 149.83 L507.50 149.73 L508.50 149.63 L509.50 149.54 L510.50 149.47 L511.50 149.40 L512.50 149.35 L513.50 149.31 L514.50 149.28 L515.50 149.25 L516.50 149.24 L517.50 149.24 L518.50 149.26 L519.50 149.28 L520.50 149.31 L521.50 149.35 L522.50 149.41 L523.50 149.48 L524.50 149.55 L525.50 149.64 L526.50 149.74 L527.50 149.85 L528.50 149.97 L529.50 150.11 L530.50 150.25 L531.50 150.41 L532.50 150.58 L533.50 150.76 L534.50 150.95 L535.50 151.15 L536.50 151.36 L537.50 151.59 L538.50 151.83 L539.50 152.07 L540.50 152.34 L541.50 152.61 L542.50 152.89 L543.50 153.19 L544.50 153.50 L545.50 153.82 L546.50 154.15 L547.50 154.49 L548.50 154.85 L549.50 155.21 L550.50 155.59 L551.50 155.99 L552.50 156.39 L553.50 156.81 L554.50 157.23 L555.50 157.67 L556.50 158.13 L557.50 158.59 L558.50 159.07 L559.50 159.56 L560.50 160.06 L561.50 160.58 L562.50 161.10 L563.50 161.64 L564.50 162.20 L565.50 162.76 L566.50 163.34 L567.50 163.93 L568.50 164.53 L569.50 165.15 L570.50 165.78 L571.50 166.42 L572.50 167.07 L573.50 167.74 L574.50 168.42 L575.50 169.11 L576.50 169.81 L577.50 170.53 L578.50 171.26 L579.50 172.01 L580.50 172.77 L581.50 173.54 L582.50 174.32 L583.50 175.12 L584.50 175.93 L585.50 176.75 L586.50 177.59 L587.50 178.43 L588.50 179.30 L589.50 180.17 L590.50 181.06 L591.50 181.97 L592.50 182.88 L593.50 183.81 L594.50 184.76 L595.50 185.71 L596.50 186.68 L597.50 187.67 L598.50 188.67 L599.50 189.68 L600.50 190.70 L601.50 191.74 L602.50 192.79 L603.50 193.86 L604.50 194.94 L605.50 196.03 L606.50 197.14 L607.50 198.26 L608.50 199.40 L609.50 200.55 L610.50 201.71 L611.50 202.89 L612.50 204.08 L613.50 205.28 L614.50 206.50 L615.50 207.74 L616.50 208.99 L617.50 210.25 L618.50 211.52 L619.50 212.81 L620.50 214.12 L621.50 215.44 L622.50 216.77 L623.50 218.12 L624.50 219.48 L625.50 220.86 L626.50 222.25 L627.50 223.65 L628.50 225.07 L629.50 226.51 L630.50 227.96 L631.50 229.42 L632.50 230.90 L633.50 232.39 L634.50 233.90 L635.50 235.42 L636.50 236.96 L637.50 238.51 L638.50 240.08 L639.50 241.66 L640.50 243.26 L641.50 244.87 L642.50 246.49 L643.50 248.14 L644.50 249.79 L645.50 251.46 L646.50 253.15 L647.50 254.85 L648.50 256.57 L649.50 258.31 L650.50 260.06 L651.50 261.83 L652.50 263.62 L653.50 265.43 L654.50 267.25 L655.50 269.10 L656.50 270.96 L657.50 272.84 L658.50 274.75 L659.50 276.67 L660.50 278.62 L661.50 280.58 L662.50 282.57 L663.50 284.58 L664.50 286.62 L665.50 288.68 L666.50 290.76 L667.50 292.86 L668.50 294.99 L669.50 297.14 L670.50 299.32 L671.50 301.52 L672.50 303.75 L673.50 306.01 L674.50 308.29 L675.50 310.60 L676.50 312.94 L677.50 315.30 L678.50 317.70 L679.50 320.12 L680.50 322.57 L681.50 325.05 L682.50 327.56 L683.50 330.10 L684.50 332.67 L685.50 335.27 L686.50 337.90 L687.50 340.57 L688.50 343.26 L689.50 345.99 L690.50 348.75 L691.50 351.55 L692.50 354.37 L693.50 357.22 L694.50 360.09 L695.50 362.96 L696.50 365.85 L697.50 368.74 L698.50 371.62 L699.50 374.50 L700.50 377.37 L701.50 380.23 L702.50 383.08 L703.50 385.92 L704.50 388.76 L705.50 391.58 L706.50 394.40 L707.50 397.20 L708.50 400.00 L709.50 402.79 L710.50 405.57 L711.50 408.34 L712.50 411.10 L713.50 413.85 L714.50 416.60 L715.50 419.33 L716.50 422.07 L717.50 424.82 L718.50 427.60 L719.50 430.44 L720.50 433.34 L721.50 436.32 L722.50 439.40 L723.50 442.59 L724.50 445.92 L725.50 449.38 L726.50 453.01 L727.50 456.81 L728.50 460.81 L729.50 465.01 L730.50 469.44 L731.50 474.11 L732.50 479.03 L733.50 484.23 L734.50 489.71 L735.50 495.50 L736.50 501.60" stroke="#ff0000" stroke-width="3.20" stroke-dasharray="14.12 4.33 2.83 4.16 2.83 4.16 2.83 4.33" stroke-dashoffset="0.10"/>
</g>
<path d="M294.40 309.40 L302.40 301.40 L310.40 309.40 L302.40 317.40 Z" fill="none" stroke="#0000ff" stroke-width="0.85"/>
<path d="M302.40 306.30 L302.40 312.50 M299.50 306.30 L305.30 306.30 M299.50 312.50 L305.30 312.50" fill="none" stroke="#0000ff" stroke-width="0.85"/>
<path d="M482.40 150.50 L490.40 142.50 L498.40 150.50 L490.40 158.50 Z" fill="none" stroke="#0000ff" stroke-width="0.85"/>
<path d="M490.40 147.30 L490.40 153.70 M487.50 147.30 L493.30 147.30 M487.50 153.70 L493.30 153.70" fill="none" stroke="#0000ff" stroke-width="0.85"/>
<path d="M310.70 13.20 L310.70 34.20 M325.12 13.20 L325.12 34.20 M310.70 23.20 L325.12 23.20 M333.36 13.20 L333.36 34.20 M333.36 13.20 L340.06 13.20 L342.94 14.20 L344.79 16.20 L345.82 18.20 L346.75 21.20 L346.75 26.20 L345.82 29.20 L344.79 31.20 L342.94 33.20 L340.06 34.20 L333.36 34.20 M354.99 18.20 L354.99 17.20 L356.02 15.20 L357.05 14.20 L359.11 13.20 L363.23 13.20 L365.29 14.20 L366.32 15.20 L367.35 17.20 L367.35 19.20 L366.32 21.20 L364.26 24.20 L353.96 34.20 L368.38 34.20 M375.59 18.20 L375.59 17.20 L376.62 15.20 L377.65 14.20 L379.71 13.20 L383.83 13.20 L385.89 14.20 L386.92 15.20 L387.95 17.20 L387.95 19.20 L386.92 21.20 L384.86 24.20 L374.56 34.20 L388.98 34.20 M407.52 13.20 L397.22 13.20 L396.19 22.20 L397.22 21.20 L400.31 20.20 L403.40 20.20 L406.49 21.20 L408.55 23.20 L409.58 26.20 L409.58 28.20 L408.55 31.20 L406.49 33.20 L403.40 34.20 L400.31 34.20 L397.22 33.20 L396.19 32.20 L395.16 30.20 M416.79 18.20 L416.79 17.20 L417.82 15.20 L418.85 14.20 L420.91 13.20 L425.03 13.20 L427.09 14.20 L428.12 15.20 L429.15 17.20 L429.15 19.20 L428.12 21.20 L426.06 24.20 L415.76 34.20 L430.18 34.20 M442.59 13.20 L439.66 14.20 L437.70 17.20 L436.72 22.20 L436.72 25.20 L437.70 30.20 L439.66 33.20 L442.59 34.20 L444.55 34.20 L447.48 33.20 L449.44 30.20 L450.42 25.20 L450.42 22.20 L449.44 17.20 L447.48 14.20 L444.55 13.20 L442.59 13.20 M463.19 13.20 L460.26 14.20 L458.30 17.20 L457.32 22.20 L457.32 25.20 L458.30 30.20 L460.26 33.20 L463.19 34.20 L465.15 34.20 L468.08 33.20 L470.04 30.20 L471.02 25.20 L471.02 22.20 L470.04 17.20 L468.08 14.20 L465.15 13.20 L463.19 13.20 M507.64 16.20 L505.58 14.20 L502.49 13.20 L498.37 13.20 L495.28 14.20 L493.22 16.20 L493.22 18.20 L494.25 20.20 L495.28 21.20 L497.34 22.20 L503.52 24.20 L505.58 25.20 L506.61 26.20 L507.64 28.20 L507.64 31.20 L505.58 33.20 L502.49 34.20 L498.37 34.20 L495.28 33.20 L493.22 31.20 M514.85 13.20 L514.85 34.20 M514.85 13.20 L526.69 13.20 M514.85 23.20 L521.75 23.20 M514.85 34.20 L526.69 34.20 M534.42 13.20 L534.42 34.20 M534.42 13.20 L541.11 13.20 L544.00 14.20 L545.85 16.20 L546.88 18.20 L547.81 21.20 L547.81 26.20 L546.88 29.20 L545.85 31.20 L544.00 33.20 L541.11 34.20 L534.42 34.20 M572.32 20.20 L572.32 42.20 M572.32 23.20 L574.38 21.20 L576.44 20.20 L579.53 20.20 L581.59 21.20 L583.65 23.20 L584.68 26.20 L584.68 28.20 L583.65 31.20 L581.59 33.20 L579.53 34.20 L576.44 34.20 L574.38 33.20 L572.32 31.20 M592.92 13.20 L592.92 34.20 M605.28 20.20 L603.22 21.20 L601.16 23.20 L600.13 26.20 L600.13 28.20 L601.16 31.20 L603.22 33.20 L605.28 34.20 L608.37 34.20 L610.43 33.20 L612.49 31.20 L613.52 28.20 L613.52 26.20 L612.49 23.20 L610.43 21.20 L608.37 20.20 L605.28 20.20 M621.76 13.20 L621.76 34.20 M617.64 20.20 L625.88 20.20 M525.86 517.77 L527.51 516.98 L529.99 514.61 L529.99 531.20 M544.90 514.61 L542.54 515.40 L540.97 517.77 L540.19 521.72 L540.19 524.09 L540.97 528.04 L542.54 530.41 L544.90 531.20 L546.46 531.20 L548.82 530.41 L550.39 528.04 L551.17 524.09 L551.17 521.72 L550.39 517.77 L548.82 515.40 L546.46 514.61 L544.90 514.61 M561.42 514.61 L559.06 515.40 L557.49 517.77 L556.71 521.72 L556.71 524.09 L557.49 528.04 L559.06 530.41 L561.42 531.20 L562.98 531.20 L565.34 530.41 L566.91 528.04 L567.69 524.09 L567.69 521.72 L566.91 517.77 L565.34 515.40 L562.98 514.61 L561.42 514.61 M141.86 517.67 L143.51 516.88 L145.99 514.51 L145.99 531.10 M160.90 514.51 L158.54 515.30 L156.97 517.67 L156.19 521.62 L156.19 523.99 L156.97 527.94 L158.54 530.31 L160.90 531.10 L162.46 531.10 L164.82 530.31 L166.39 527.94 L167.17 523.99 L167.17 521.62 L166.39 517.67 L164.82 515.30 L162.46 514.51 L160.90 514.51 M101.26 148.75 L102.91 147.97 L105.39 145.62 L105.39 162.10 M120.30 145.62 L117.94 146.40 L116.37 148.75 L115.59 152.68 L115.59 155.03 L116.37 158.96 L117.94 161.31 L120.30 162.10 L121.86 162.10 L124.22 161.31 L125.79 158.96 L126.57 155.03 L126.57 152.68 L125.79 148.75 L124.22 146.40 L121.86 145.62 L120.30 145.62 M136.82 145.62 L134.46 146.40 L132.89 148.75 L132.11 152.68 L132.11 155.03 L132.89 158.96 L134.46 161.31 L136.82 162.10 L138.38 162.10 L140.74 161.31 L142.31 158.96 L143.09 155.03 L143.09 152.68 L142.31 148.75 L140.74 146.40 L138.38 145.62 L136.82 145.62 M118.16 480.75 L119.81 479.97 L122.29 477.62 L122.29 494.10 M137.20 477.62 L134.84 478.40 L133.27 480.75 L132.49 484.68 L132.49 487.04 L133.27 490.96 L134.84 493.31 L137.20 494.10 L138.76 494.10 L141.12 493.31 L142.69 490.96 L143.47 487.04 L143.47 484.68 L142.69 480.75 L141.12 478.40 L138.76 477.62 L137.20 477.62 M422.30 546.08 L424.10 546.08 L425.90 546.90 L426.80 547.72 L427.70 549.36 L434.90 563.30 M428.60 551.82 L422.30 563.30 M458.12 542.65 L456.39 544.30 L454.66 546.78 L452.93 550.08 L452.06 554.21 L452.06 557.52 L452.93 561.65 L454.66 564.95 L456.39 567.43 L458.12 569.08 M466.55 551.74 L462.70 569.33 M464.69 560.00 L464.69 561.48 L465.73 562.72 L467.72 563.30 L470.48 563.22 L473.25 562.31 L475.42 560.82 L477.15 558.76 L478.18 556.53 M479.31 551.74 L478.18 556.53 L477.75 561.23 L478.01 562.64 L478.70 563.13 L479.83 562.47 M482.34 551.74 L482.34 563.30 M482.34 555.04 L484.93 552.56 L486.66 551.74 L489.25 551.74 L490.99 552.56 L491.85 555.04 L491.85 563.30 M491.85 555.04 L494.45 552.56 L496.18 551.74 L498.77 551.74 L500.50 552.56 L501.37 555.04 L501.37 563.30 M507.42 542.65 L509.15 544.30 L510.88 546.78 L512.61 550.08 L513.48 554.21 L513.48 557.52 L512.61 561.65 L510.88 564.95 L509.15 567.43 L507.42 569.08 M58.18 338.02 L75.40 338.02 M63.92 327.90 L64.74 329.58 L66.38 331.27 L68.84 332.12 L70.48 332.12 L72.94 331.27 L74.58 329.58 L75.40 327.90 L75.40 325.36 L74.58 323.68 L72.94 321.99 L70.48 321.14 L68.84 321.14 L66.38 321.99 L64.74 323.68 L63.92 325.36 L63.92 327.90 M63.92 305.95 L77.04 305.95 L79.50 306.80 L80.32 307.64 L81.14 309.33 L81.14 311.86 L80.32 313.55 M66.38 305.95 L64.74 307.64 L63.92 309.33 L63.92 311.86 L64.74 313.55 L66.38 315.24 L68.84 316.08 L70.48 316.08 L72.94 315.24 L74.58 313.55 L75.40 311.86 L75.40 309.33 L74.58 307.64 L72.94 305.95 M58.18 285.70 L75.40 285.70 M58.18 285.70 L58.18 275.99 M66.38 285.70 L66.38 280.04 M66.91 272.29 L66.91 271.06 L67.50 269.83 L68.09 269.22 L69.27 268.60 L79.30 263.69 M71.04 267.99 L79.30 272.29 M54.65 244.82 L56.31 246.50 L58.80 248.19 L62.12 249.88 L66.27 250.72 L69.59 250.72 L73.74 249.88 L77.06 248.19 L79.55 246.50 L81.21 244.82 M63.78 238.91 L75.40 238.91 M67.10 238.91 L64.61 236.38 L63.78 234.69 L63.78 232.16 L64.61 230.47 L67.10 229.62 L75.40 229.62 M67.10 229.62 L64.61 227.09 L63.78 225.40 L63.78 222.87 L64.61 221.18 L67.10 220.34 L75.40 220.34 M57.97 206.84 L71.25 206.84 L73.74 207.51 L74.57 208.19 L75.40 209.54 L75.40 210.89 L74.57 212.24 L73.74 212.91 L71.25 213.59 L69.59 213.59 M63.78 201.77 L75.40 196.71 M63.78 191.64 L75.40 196.71 L78.72 198.40 L80.38 200.08 L81.21 201.77 L81.21 202.62 M54.65 187.42 L56.31 185.74 L58.80 184.05 L62.12 182.36 L66.27 181.52 L69.59 181.52 L73.74 182.36 L77.06 184.05 L79.55 185.74 L81.21 187.42" fill="none" stroke="#333" stroke-width="1.30" stroke-linecap="round" stroke-linejoin="round"/>
</svg>
</body></html>
